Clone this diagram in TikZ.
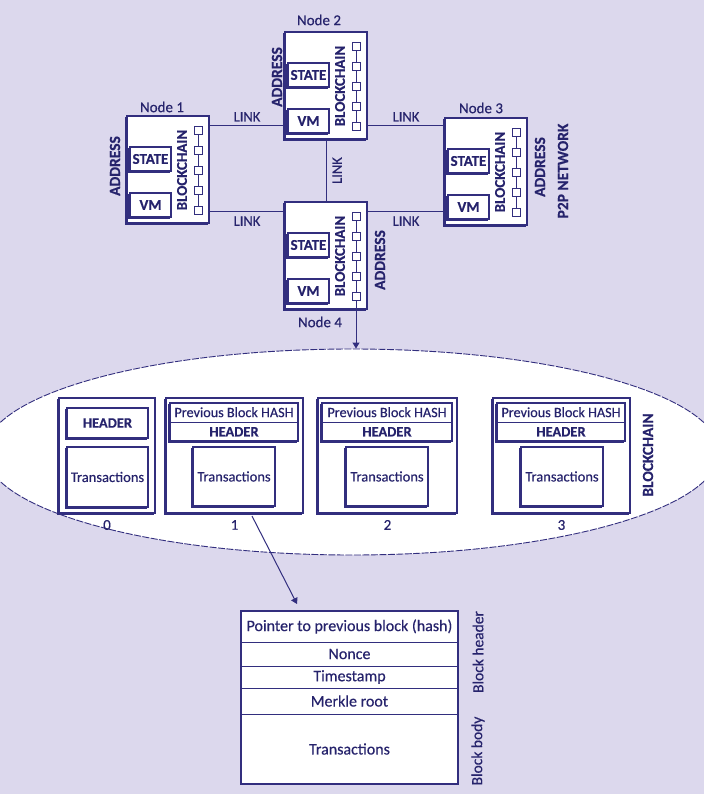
\documentclass[tikz,border=0pt]{standalone}
\usepackage{fontspec}
\setmainfont{Carlito}[FakeBold=0.4]
\usetikzlibrary{shadows,arrows.meta,calc,fit,shapes.geometric}

\definecolor{bg}{RGB}{220,216,237}
\definecolor{ink}{RGB}{50,46,126}
\definecolor{txt}{RGB}{38,35,108}

\newcommand\fs[1]{\fontsize{#1}{#1}\selectfont}

\tikzset{
  shad/.style={copy shadow={shadow xshift=-1.6pt, shadow yshift=-1.6pt, draw=ink, fill=white, line width=0.9pt}},
  box/.style={draw=ink, fill=white, line width=1.1pt, inner sep=0pt, shad},
  rowbox/.style={draw=ink, fill=white, line width=0.8pt, inner sep=0pt},
  rowtext/.style={font=\fs{16}},
  sq/.style={draw=ink, fill=white, line width=0.8pt, minimum size=8pt, inner sep=0pt},
  chainl/.style={draw=ink, line width=0.8pt},
  link/.style={draw=ink, line width=1pt},
  tip/.style={-{Triangle[width=7pt,length=6pt]}},
  lbl/.style={font=\fs{14.5}, inner sep=4pt},
  title/.style={font=\fs{15}},
  bold/.style={font=\bfseries\fs{15.5}},
}

% one peer of the network: frame, state, vm and its local chain
\newcommand\NetNode[3]{%
  \node[box, fit={(#2,#3) (#2+82,#3+107)}] (#1) {};
  \node[box, fit={(#2+3,#3+31) (#2+44,#3+55)}] (#1-state) {};
  \node[font=\bfseries\fs{15}] (#1-statetext) at (#1-state.center) {STATE};
  \node[box, fit={(#2+3,#3+77) (#2+44,#3+101)}] (#1-vm) {};
  \node[font=\bfseries\fs{15}] (#1-vmtext) at (#1-vm.center) {VM};
  \node[rotate=90, font=\bfseries\fs{15}] (#1-bc) at (#2+55,#3+54) {BLOCKCHAIN};
  \foreach \k in {0,...,4} \node[sq] (#1-c\k) at (#2+71,#3+14+20*\k) {};
  \foreach \k [count=\j from 1] in {0,...,3} \draw[chainl] (#1-c\k) -- (#1-c\j);
}

% one linked block: frame, previous hash / header rows, transactions, index
\newcommand\ChainBlock[6]{%
  \node[box, fit={(#2,398) (#3,513)}] (#1) {};
  \node[box, fit={(#2+4,403) (#3-5,441)}] (#1-h) {};
  \draw[chainl] (#1-h.west) -- (#1-h.east);
  \node[font=\fs{14.2}] (#1-prev) at ($(#1-h.center)!0.5!(#1-h.north)$) {Previous Block HASH};
  \node[font=\bfseries\fs{14.5}] (#1-hdr) at ($(#1-h.center)!0.5!(#1-h.south)$) {HEADER};
  \node[box, fit={(#4,447) (#5,506)}] (#1-t) {};
  \node[font=\fs{14.5}] (#1-ttext) at (#1-t.center) {Transactions};
  \node[below=3pt, font=\fs{15}] (#1-num) at (#1.south) {#6};
}

\begin{document}
\begin{tikzpicture}[x=1pt,y=-1pt, every node/.style={text=txt}]
\useasboundingbox[fill=bg] (0,0) rectangle (704,794);
\clip (0,0) rectangle (704,794);

% ---------- P2P network ----------
\NetNode{n1}{127}{116}
\NetNode{n2}{285}{32}
\NetNode{n3}{445}{118}
\NetNode{n4}{285}{202}

\node[title] (t1) at (162,107) {Node 1};
\node[title] (t2) at (319,20) {Node 2};
\node[title] (t3) at (481,108) {Node 3};
\node[title] (t4) at (320,322) {Node 4};

\node[bold, rotate=90] (ad1) at (115,166) {ADDRESS};
\node[bold, rotate=90] (ad2) at (277,77) {ADDRESS};
\node[bold, rotate=90] (ad3) at (540,167) {ADDRESS};
\node[bold, rotate=90] (ad4) at (380,260) {ADDRESS};
\node[bold, rotate=90] (p2p) at (563,171) {P2P NETWORK};

\coordinate (ya) at (0,126);
\coordinate (yb) at (0,212);
\draw[link] (n1.east |- ya) -- node[above, lbl] (l12) {LINK} (n2.west |- ya);
\draw[link] (n2.east |- ya) -- node[above, lbl] (l23) {LINK} (n3.west |- ya);
\draw[link] (n1.east |- yb) -- node[below, lbl] (l14) {LINK} (n4.west |- yb);
\draw[link] (n4.east |- yb) -- node[below, lbl] (l43) {LINK} (n3.west |- yb);
\draw[link] (n2) -- node[rotate=90, anchor=north, lbl, inner sep=6pt] (l24) {LINK} (n4);

% ---------- blockchain ----------
\node[ellipse, draw=ink, fill=white, line width=0.9pt, dash pattern=on 7pt off 1.5pt,
      minimum width=734pt, minimum height=206pt, inner sep=0pt] (chain) at (352,452) {};
\draw[link, tip] (n4-c4.south) -- (n4-c4.south |- chain.north);

\node[box, fit={(59,398) (155,513)}] (b0) {};
\node[box, fit={(67,408) (148,438)}] (b0-h) {};
\node[font=\bfseries\fs{14.5}] (b0-hdr) at (b0-h.center) {HEADER};
\node[box, fit={(67,447) (148,507)}] (b0-t) {};
\node[font=\fs{14.5}] (b0-ttext) at (b0-t.center) {Transactions};
\node[below=3pt, font=\fs{15}] (b0-num) at (b0.south) {0};

\ChainBlock{b1}{166}{303}{193}{275}{1}
\ChainBlock{b2}{318}{457}{346}{428}{2}
\ChainBlock{b3}{493}{630}{521}{603}{3}

\node[bold, rotate=90] (bcl) at (648,455) {BLOCKCHAIN};

% ---------- block structure ----------
\node[rowbox, fit={(241,611) (458,642)}] (r1) {};
\node[rowbox, fit={(241,642) (458,666)}] (r2) {};
\node[rowbox, fit={(241,666) (458,688)}] (r3) {};
\node[rowbox, fit={(241,688) (458,714)}] (r4) {};
\node[rowbox, fit={(241,714) (458,784)}] (r5) {};
\node[draw=ink, line width=1.6pt, inner sep=0pt, fit={(241,611) (458,784)}] (tbl) {};
\node[rowtext] (r1t) at (r1.center) {Pointer to previous block (hash)};
\node[rowtext] (r2t) at (r2.center) {Nonce};
\node[rowtext] (r3t) at (r3.center) {Timestamp};
\node[rowtext] (r4t) at (r4.center) {Merkle root};
\node[rowtext] (r5t) at (r5.center) {Transactions};

\node[rotate=90, font=\fs{15.5}] (bh) at (478,652) {Block header};
\node[rotate=90, font=\fs{15.5}] (bb) at (478,751) {Block body};

\coordinate (a1) at (252,516);
\coordinate (a2) at (297,604);
\draw[link, tip] (a1) -- (a2);
\end{tikzpicture}
\end{document}
